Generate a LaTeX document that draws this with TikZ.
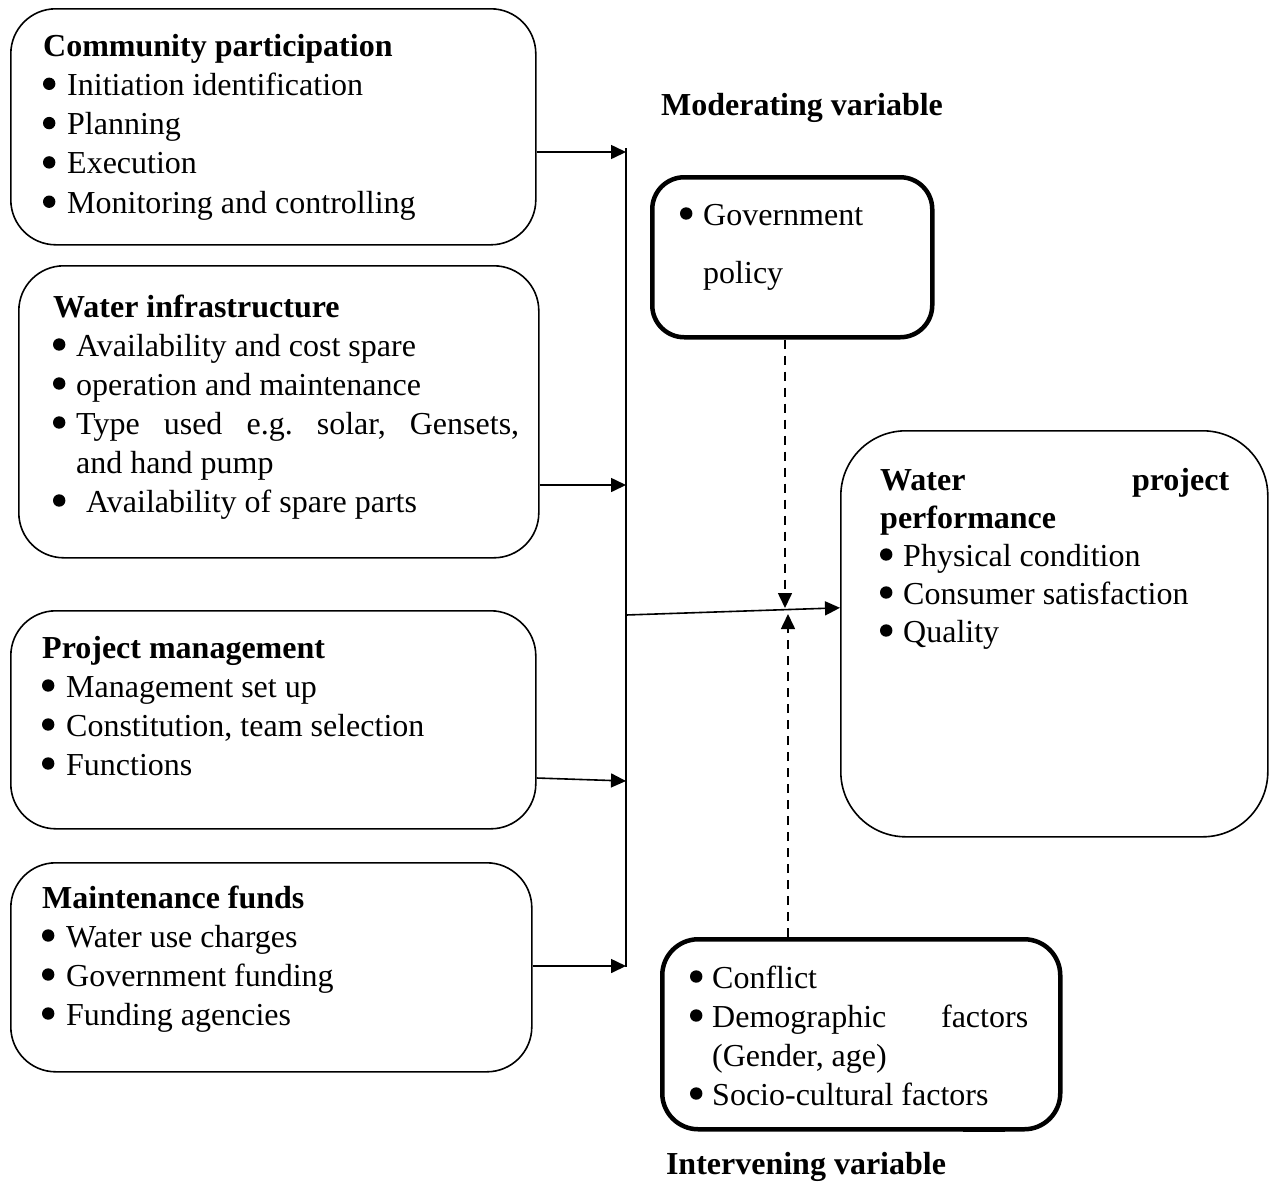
\documentclass[tikz,border=0pt]{standalone}
\usepackage{fontspec}
\setmainfont{Liberation Serif}
\usetikzlibrary{arrows.meta}
\frenchspacing
\newcommand\bul{\tikz[baseline=0pt]{\useasboundingbox (0pt,0pt) rectangle (12pt,1pt); \fill (6pt,11.5pt) circle (6.2pt);}}
\newcommand\bfirst[2][24pt]{\hangindent=#1\hangafter=1\noindent\makebox[#1][l]{\bul}#2}
\newcommand\bitem[2][24pt]{\par\bfirst[#1]{#2}}
\newcommand\bhead[1]{\noindent\textbf{#1}}
\tikzset{
  box/.style={draw, line width=1.6pt, rounded corners=45pt, anchor=north west, inner sep=0pt},
  thickbox/.style={draw, line width=4.5pt, rounded corners=32pt, anchor=north west, inner sep=0pt},
  txt/.style={anchor=base west, inner sep=0pt, align=justify, font=\fontsize{32}{39.3}\selectfont},
  arr/.style={line width=1.6pt, -{Triangle[length=15pt,width=14pt]}},
  lbl/.style={anchor=base, inner sep=0pt, font=\fontsize{32}{39}\selectfont\bfseries}
}
\begin{document}
\begin{tikzpicture}[x=1pt,y=-1pt]
\useasboundingbox (0,0) rectangle (1269,1184);
% boxes
\node[box, minimum width=525pt, minimum height=236pt] (cp) at (10,8) {};
\node[box, minimum width=520pt, minimum height=292pt] (wi) at (18,265) {};
\node[box, minimum width=525pt, minimum height=218pt] (pm) at (10,610) {};
\node[box, minimum width=521pt, minimum height=209pt] (mf) at (10,862) {};
\node[thickbox, minimum width=280pt, minimum height=160pt] (gp) at (650,175) {};
\node[box, rounded corners=65pt, minimum width=427pt, minimum height=406pt] (wpp) at (840,430) {};
\node[thickbox, rounded corners=36pt, minimum width=398pt, minimum height=190pt] (iv) at (660,937) {};
\draw[line width=4pt] (963,1130) -- (1005,1130);
% texts
\node[txt, text width=480pt] (tcp) at (43,56) {\bhead{Community participation}
\bitem{Initiation identification}
\bitem{Planning}
\bitem{Execution}
\bitem{Monitoring and controlling}\par};
\node[txt, text width=466pt, font=\fontsize{32}{39}\selectfont] (twi) at (53,317) {\bhead{Water infrastructure}
\bitem[23pt]{Availability and cost spare}
\bitem[23pt]{operation and maintenance}
\bitem[23pt]{Type used e.g. solar, Gensets,\linebreak and hand pump}
\bitem[33pt]{Availability of spare parts}\par};
\node[txt, text width=480pt, font=\fontsize{32}{39}\selectfont] (tpm) at (42,658) {\bhead{Project management}
\bitem{Management set up}
\bitem{Constitution, team selection}
\bitem{Functions}\par};
\node[txt, text width=480pt, font=\fontsize{32}{39}\selectfont] (tmf) at (42,908) {\bhead{Maintenance funds}
\bitem{Water use charges}
\bitem{Government funding}
\bitem{Funding agencies}\par};
\node[txt, text width=220pt, font=\fontsize{32}{58}\selectfont] (tgp) at (680,225) {\bfirst[23pt]{Government\linebreak policy}\par};
\node[txt, text width=349pt, font=\fontsize{32}{38}\selectfont] (twpp) at (880,490) {\bhead{Water project\linebreak performance}
\bitem[23pt]{Physical condition}
\bitem[23pt]{Consumer satisfaction}
\bitem[23pt]{Quality}\par};
\node[txt, text width=338pt, font=\fontsize{32}{39}\selectfont] (tiv) at (690,988) {\bfirst[22pt]{Conflict}
\bitem[22pt]{Demographic factors\linebreak (Gender, age)}
\bitem[22pt]{Socio-cultural factors}\par};
\node[lbl] (mod) at (802,115) {Moderating variable};
\node[lbl] (int) at (806,1174) {Intervening variable};
% connectors
\coordinate (vtop) at (626,148);
\coordinate (vbot) at (626,967);
\coordinate (j1) at (626,152);
\coordinate (j2) at (626,485);
\coordinate (j3) at (626,781);
\coordinate (j4) at (626,966);
\coordinate (jo) at (626,615);
\draw[line width=1.6pt] (vtop) -- (vbot);
\draw[arr] (cp.east |- j1) -- (j1);
\draw[arr] (wi.east |- j2) -- (j2);
\draw[arr] ([yshift=3pt]pm.east |- j3) -- (j3);
\draw[arr] (mf.east |- j4) -- (j4);
\draw[arr] (jo) -- ([yshift=26pt]wpp.west);
\coordinate (m1) at (785,608);
\coordinate (m2) at (788,614);
\draw[arr, dashed, dash pattern=on 9pt off 7pt] (gp.south -| m1) -- (m1);
\draw[arr, dashed, dash pattern=on 9pt off 7pt] (iv.north -| m2) -- (m2);
\end{tikzpicture}
\end{document}
